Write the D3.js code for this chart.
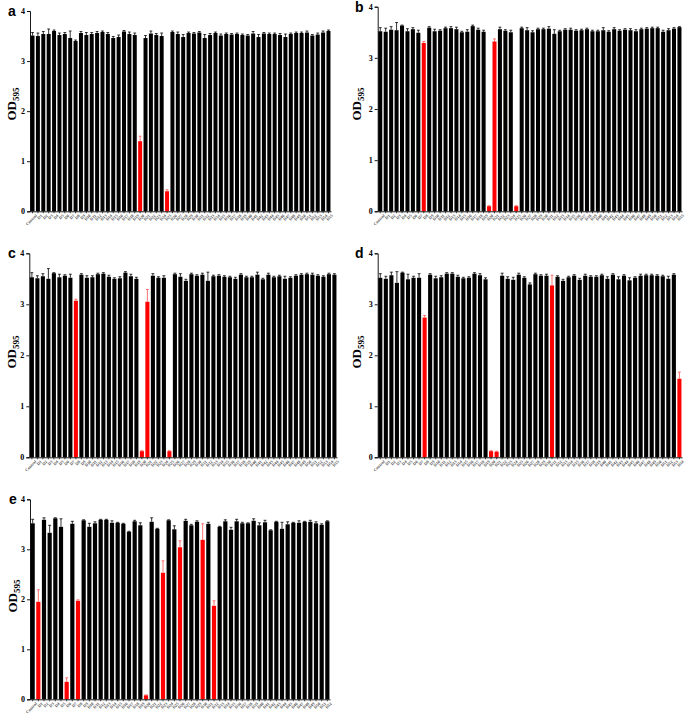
<!DOCTYPE html>
<html><head><meta charset="utf-8">
<script src="https://cdn.jsdelivr.net/npm/d3@7"></script>
<style>body{margin:0;background:#fff}svg{display:block}</style>
</head><body>
<svg id="c" width="685" height="717"></svg>
<script>
const categories = ["Control","D1","D2","D3","D4","D5","D6","D7","D8","D9","D10","D11","D12","D13","D14","D15","D16","D17","D18","D19","D20","D21","D22","D23","D24","D25","D26","D27","D28","D29","D30","D31","D32","D33","D34","D35","D36","D37","D38","D39","D40","D41","D42","D43","D44","D45","D46","D47","D48","D49","D50","D51","D52","D53","D54","D55"];
const yTicks = [0,1,2,3,4];

const valuesA = [3.51,3.50,3.54,3.54,3.60,3.52,3.54,3.46,3.40,3.56,
  3.52,3.54,3.56,3.58,3.54,3.46,3.48,3.59,3.54,3.52,
  1.40,3.46,3.55,3.52,3.50,0.40,3.58,3.54,3.48,3.56,
  3.55,3.57,3.46,3.52,3.56,3.51,3.54,3.53,3.54,3.52,
  3.51,3.55,3.48,3.55,3.54,3.54,3.52,3.48,3.54,3.56,
  3.56,3.57,3.51,3.53,3.57,3.60];
const errorsA = [0.06,0.06,0.05,0.10,0.02,0.04,0.03,0.14,0.02,0.03,
  0.05,0.03,0.03,0.02,0.03,0.03,0.04,0.02,0.04,0.04,
  0.10,0.05,0.05,0.03,0.06,0.03,0.02,0.04,0.05,0.02,
  0.02,0.02,0.07,0.03,0.02,0.03,0.02,0.02,0.02,0.02,
  0.02,0.04,0.05,0.02,0.02,0.02,0.03,0.06,0.02,0.02,
  0.02,0.03,0.02,0.03,0.03,0.02];
const redA = [20,25];

const valuesB = [3.52,3.51,3.55,3.54,3.63,3.52,3.56,3.49,3.29,3.59,
  3.52,3.53,3.58,3.58,3.56,3.50,3.51,3.62,3.55,3.51,
  0.10,3.32,3.56,3.53,3.50,0.10,3.58,3.54,3.50,3.56,
  3.56,3.57,3.47,3.52,3.55,3.55,3.53,3.54,3.56,3.52,
  3.52,3.54,3.51,3.56,3.53,3.55,3.54,3.52,3.56,3.57,
  3.58,3.58,3.51,3.54,3.57,3.60];
const errorsB = [0.07,0.07,0.06,0.15,0.01,0.05,0.03,0.05,0.03,0.02,
  0.04,0.02,0.02,0.03,0.04,0.02,0.04,0.02,0.03,0.03,
  0.01,0.05,0.04,0.02,0.04,0.01,0.02,0.05,0.03,0.02,
  0.02,0.04,0.08,0.02,0.02,0.03,0.02,0.02,0.02,0.02,
  0.02,0.05,0.02,0.03,0.02,0.02,0.03,0.03,0.02,0.02,
  0.02,0.02,0.03,0.03,0.02,0.01];
const redB = [8,20,21,25];

const valuesC = [3.53,3.51,3.55,3.50,3.61,3.53,3.56,3.52,3.07,3.58,
  3.52,3.53,3.59,3.60,3.54,3.50,3.51,3.62,3.55,3.50,
  0.12,3.05,3.56,3.52,3.52,0.12,3.59,3.54,3.46,3.59,
  3.56,3.58,3.46,3.55,3.56,3.54,3.53,3.50,3.58,3.53,
  3.53,3.58,3.49,3.58,3.53,3.55,3.50,3.52,3.56,3.58,
  3.59,3.58,3.56,3.54,3.59,3.58];
const errorsC = [0.09,0.05,0.05,0.20,0.01,0.06,0.02,0.07,0.03,0.02,
  0.04,0.03,0.02,0.02,0.03,0.02,0.03,0.02,0.04,0.03,
  0.01,0.24,0.04,0.02,0.04,0.01,0.02,0.06,0.03,0.02,
  0.02,0.03,0.17,0.02,0.02,0.02,0.02,0.03,0.02,0.02,
  0.02,0.05,0.02,0.03,0.02,0.02,0.05,0.02,0.02,0.02,
  0.02,0.03,0.02,0.02,0.02,0.02];
const redC = [8,20,21,25];

const valuesD = [3.52,3.50,3.57,3.42,3.62,3.49,3.52,3.52,2.74,3.58,
  3.51,3.53,3.60,3.60,3.54,3.51,3.52,3.60,3.57,3.49,
  0.12,0.11,3.56,3.50,3.48,3.58,3.52,3.39,3.59,3.56,
  3.56,3.37,3.54,3.46,3.53,3.56,3.48,3.56,3.54,3.54,
  3.57,3.50,3.58,3.49,3.56,3.47,3.52,3.56,3.57,3.57,
  3.56,3.55,3.50,3.58,1.54];
const errorsD = [0.08,0.05,0.06,0.22,0.01,0.10,0.03,0.08,0.04,0.02,
  0.04,0.03,0.02,0.02,0.03,0.02,0.02,0.02,0.03,0.03,
  0.01,0.01,0.05,0.04,0.05,0.03,0.02,0.03,0.02,0.02,
  0.03,0.20,0.02,0.03,0.02,0.02,0.03,0.03,0.02,0.02,
  0.02,0.04,0.02,0.05,0.02,0.05,0.02,0.03,0.02,0.02,
  0.02,0.02,0.05,0.02,0.13];
const redD = [8,20,21,31,54];

const valuesE = [3.52,1.95,3.59,3.33,3.62,3.45,0.35,3.51,1.97,3.58,
  3.45,3.52,3.59,3.59,3.53,3.53,3.51,3.35,3.56,3.48,
  0.08,3.55,3.41,2.53,3.58,3.40,3.04,3.57,3.48,3.55,
  3.19,3.51,1.87,3.45,3.56,3.39,3.56,3.52,3.52,3.57,
  3.48,3.54,3.38,3.55,3.41,3.50,3.53,3.53,3.55,3.55,
  3.52,3.49,3.56];
const errorsE = [0.08,0.24,0.04,0.15,0.01,0.16,0.08,0.05,0.02,0.01,
  0.07,0.03,0.01,0.01,0.04,0.01,0.01,0.01,0.02,0.05,
  0.01,0.08,0.01,0.24,0.01,0.07,0.13,0.03,0.02,0.02,
  0.32,0.03,0.10,0.01,0.03,0.05,0.04,0.02,0.01,0.04,
  0.05,0.04,0.01,0.01,0.13,0.05,0.01,0.04,0.01,0.03,
  0.03,0.02,0.01];
const redE = [1,6,8,20,23,26,30,32];

const panels = [
  {letter:"a", values:valuesA, errors:errorsA, red:redA, x0:30, x1:331, yTop:11, yBot:211.3, lx:8, ly:16, ay:104},
  {letter:"b", values:valuesB, errors:errorsB, red:redB, x0:377.7, x1:682, yTop:6.7, yBot:211.3, lx:355, ly:12, ay:104},
  {letter:"c", values:valuesC, errors:errorsC, red:redC, x0:29.3, x1:337, yTop:253.3, yBot:457.3, lx:8, ly:258, ay:352},
  {letter:"d", values:valuesD, errors:errorsD, red:redD, x0:377.7, x1:682, yTop:253.3, yBot:457.3, lx:355, ly:258, ay:352},
  {letter:"e", values:valuesE, errors:errorsE, red:redE, x0:30, x1:330, yTop:499.3, yBot:699.3, lx:9, ly:504, ay:596}
];

const svg = d3.select("#c");
const serif = "'Liberation Serif','Times New Roman',serif";
const sans = "'Liberation Sans',Arial,sans-serif";

panels.forEach(p => {
  const cats = categories.slice(0, p.values.length);
  const data = cats.map((c,i)=>({c, v:p.values[i], e:p.errors[i], red:p.red.includes(i)}));
  const x = d3.scaleBand().domain(cats).range([p.x0, p.x1]).paddingInner(0.26).paddingOuter(0.1);
  const y = d3.scaleLinear().domain([0,4]).range([p.yBot, p.yTop]);
  const g = svg.append("g");

  // bars
  g.selectAll("rect.bar").data(data).join("rect")
    .attr("x", d=>x(d.c)).attr("width", x.bandwidth())
    .attr("y", d=>y(d.v)).attr("height", d=>y(0)-y(d.v))
    .attr("fill", d=>d.red ? "#ff0000" : "#000");

  // error bars
  const cap = x.bandwidth()*0.35;
  const eg = g.selectAll("g.err").data(data).join("g")
    .attr("stroke", d=>d.red ? "#ff5050" : "#000").attr("stroke-width", 0.8);
  eg.append("line")
    .attr("x1", d=>x(d.c)+x.bandwidth()/2).attr("x2", d=>x(d.c)+x.bandwidth()/2)
    .attr("y1", d=>y(d.v)).attr("y2", d=>y(d.v+d.e));
  eg.append("line")
    .attr("x1", d=>x(d.c)+x.bandwidth()/2-cap).attr("x2", d=>x(d.c)+x.bandwidth()/2+cap)
    .attr("y1", d=>y(d.v+d.e)).attr("y2", d=>y(d.v+d.e));

  // y axis
  const ya = g.append("g").attr("transform",`translate(${p.x0},0)`)
    .call(d3.axisLeft(y).tickValues(yTicks).tickFormat(d3.format("d")).tickSize(3).tickPadding(2));
  ya.select(".domain").attr("stroke","#000").attr("stroke-width",0.9);
  ya.selectAll(".tick line").attr("stroke","#000").attr("stroke-width",0.9);
  ya.selectAll("text").attr("font-family",serif).attr("font-weight","bold").attr("font-size",8).attr("fill","#000");

  // x axis
  const xa = g.append("g").attr("transform",`translate(0,${p.yBot})`)
    .call(d3.axisBottom(x).tickSize(2).tickSizeOuter(0).tickPadding(2));
  xa.select(".domain").attr("stroke","#000").attr("stroke-width",0.9);
  xa.selectAll(".tick line").attr("stroke","#000").attr("stroke-width",0.7);
  xa.selectAll("text").attr("font-family",serif).attr("font-weight","bold").attr("font-size",4.2)
    .attr("fill","#555").attr("text-anchor","end")
    .attr("transform","translate(1,1) rotate(-45)").attr("dy","0.3em");

  // y label
  const tl = g.append("text").attr("transform",`translate(${p.lx+ (p.letter==="a"||p.letter==="c"||p.letter==="e" ? 8 : 6)},${p.ay}) rotate(-90)`)
    .attr("text-anchor","middle").attr("font-family",serif).attr("font-weight","bold").attr("font-size",13);
  tl.append("tspan").text("OD");
  tl.append("tspan").attr("font-size",9).attr("dy",3).text("595");

  // panel letter
  g.append("text").attr("x",p.lx).attr("y",p.ly).attr("font-family",sans).attr("font-weight","bold")
    .attr("font-size",14).text(p.letter);
});
</script>
</body></html>
